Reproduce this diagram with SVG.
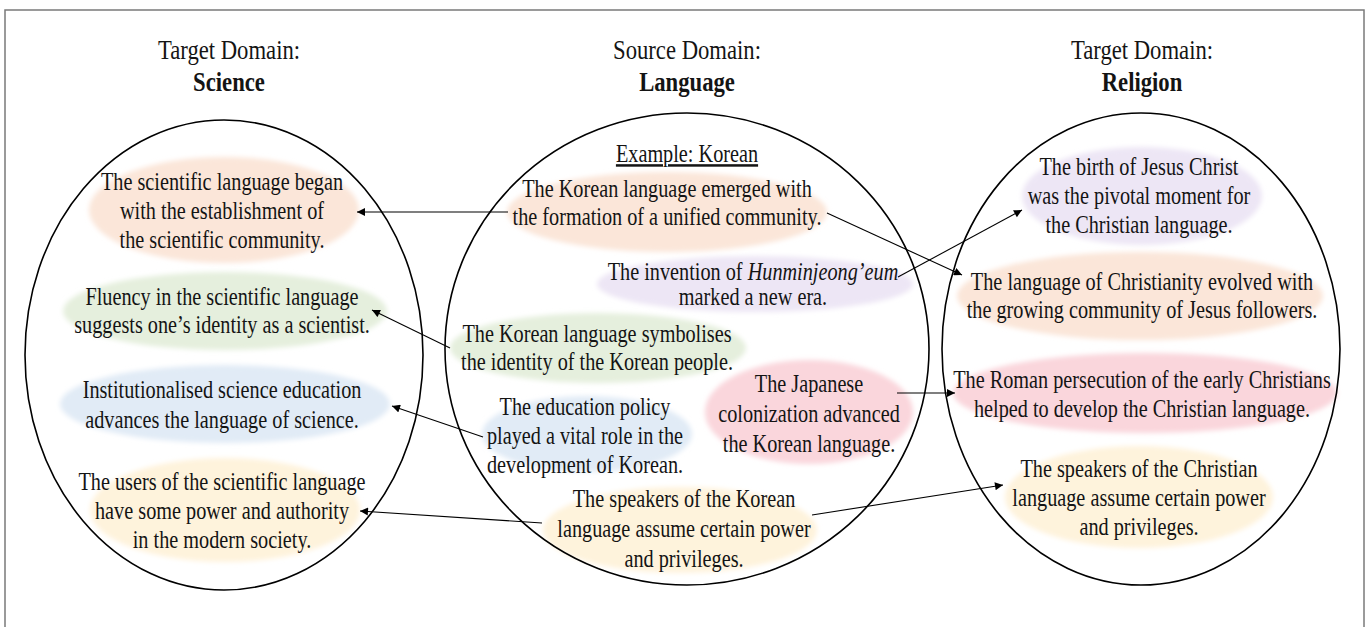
<svg xmlns="http://www.w3.org/2000/svg" width="1368" height="627" viewBox="0 0 1368 627">
<style>
text{font-family:"Liberation Serif","Times New Roman",serif;fill:#141414;text-anchor:middle}
.b{font-size:25px}
.t{font-size:28px}
.bold{font-weight:bold}
.dom{fill:none;stroke:#000;stroke-width:1.6}
.c{stroke:#000;stroke-width:1.1;fill:none;marker-end:url(#ah)}
.peach{fill:#fbe6d9}.green{fill:#e5efdd}.blue{fill:#e1ebf6}.yellow{fill:#fef3dc}.purple{fill:#ede6f5}.red{fill:#fad6dc}
.soft{filter:url(#blur)}
</style>
<defs>
<filter id="blur" x="-10%" y="-20%" width="120%" height="140%"><feGaussianBlur stdDeviation="2.5"/></filter>
<marker id="ah" viewBox="0 0 10 10" refX="10" refY="5" markerWidth="9" markerHeight="8" markerUnits="userSpaceOnUse" orient="auto"><path d="M0,0 L10,5 L0,10 z" fill="#000"/></marker>
</defs>
<rect x="5" y="10" width="1359" height="640" fill="#fff" stroke="#7a7a7a" stroke-width="1.5"/>

<g id="titles">
<g transform="translate(229 0) scale(0.81 1)"><text class="t" x="0" y="59">Target Domain:</text><text class="t bold" x="0" y="91">Science</text></g>
<g transform="translate(687 0) scale(0.81 1)"><text class="t" x="0" y="59">Source Domain:</text><text class="t bold" x="0" y="91">Language</text></g>
<g transform="translate(1142 0) scale(0.81 1)"><text class="t" x="0" y="59">Target Domain:</text><text class="t bold" x="0" y="91">Religion</text></g>
</g>

<g id="science-nodes">
<g id="s1"><ellipse class="peach soft" cx="224" cy="210" rx="135" ry="53"/>
<g transform="translate(222 0) scale(0.81 1)"><text class="b" x="0" y="190">The scientific language began</text><text class="b" x="0" y="219">with the establishment of</text><text class="b" x="0" y="248">the scientific community.</text></g></g>
<g id="s2"><ellipse class="green soft" cx="225" cy="311" rx="162" ry="39"/>
<g transform="translate(222 0) scale(0.81 1)"><text class="b" x="0" y="305">Fluency in the scientific language</text><text class="b" x="0" y="333">suggests one’s identity as a scientist.</text></g></g>
<g id="s3"><ellipse class="blue soft" cx="225" cy="404" rx="165" ry="39"/>
<g transform="translate(222 0) scale(0.81 1)"><text class="b" x="0" y="398">Institutionalised science education</text><text class="b" x="0" y="428">advances the language of science.</text></g></g>
<g id="s4"><ellipse class="yellow soft" cx="225" cy="510" rx="135" ry="52"/>
<g transform="translate(222 0) scale(0.81 1)"><text class="b" x="0" y="490">The users of the scientific language</text><text class="b" x="0" y="519">have some power and authority</text><text class="b" x="0" y="548">in the modern society.</text></g></g>
</g>

<g id="language-nodes">
<g transform="translate(687 0) scale(0.81 1)"><text id="example" class="b" x="0" y="162" text-decoration="underline">Example: Korean</text></g>
<g id="l1"><ellipse class="peach soft" cx="667" cy="212" rx="160" ry="40"/>
<g transform="translate(667 0) scale(0.81 1)"><text class="b" x="0" y="197">The Korean language emerged with</text><text class="b" x="0" y="225">the formation of a unified community.</text></g></g>
<g id="l2"><ellipse class="purple soft" cx="755" cy="284" rx="158" ry="28"/>
<g transform="translate(753 0) scale(0.81 1)"><text class="b" x="0" y="280">The invention of <tspan font-style="italic">Hunminjeong’eum</tspan></text><text class="b" x="0" y="305">marked a new era.</text></g></g>
<g id="l3"><ellipse class="green soft" cx="598" cy="348" rx="148" ry="35"/>
<g transform="translate(597 0) scale(0.81 1)"><text class="b" x="0" y="342">The Korean language symbolises</text><text class="b" x="0" y="370">the identity of the Korean people.</text></g></g>
<g id="l4"><ellipse class="blue soft" cx="587" cy="434" rx="105" ry="38"/>
<g transform="translate(585 0) scale(0.81 1)"><text class="b" x="0" y="415">The education policy</text><text class="b" x="0" y="444">played a vital role in the</text><text class="b" x="0" y="473">development of Korean.</text></g></g>
<g id="l5"><ellipse class="red soft" cx="809" cy="412" rx="104" ry="52"/>
<g transform="translate(809 0) scale(0.81 1)"><text class="b" x="0" y="392">The Japanese</text><text class="b" x="0" y="422">colonization advanced</text><text class="b" x="0" y="452">the Korean language.</text></g></g>
<g id="l6"><ellipse class="yellow soft" cx="680" cy="530" rx="137" ry="43"/>
<g transform="translate(684 0) scale(0.81 1)"><text class="b" x="0" y="507">The speakers of the Korean</text><text class="b" x="0" y="537">language assume certain power</text><text class="b" x="0" y="567">and privileges.</text></g></g>
</g>

<g id="religion-nodes">
<g id="r1"><ellipse class="purple soft" cx="1142" cy="196" rx="120" ry="49"/>
<g transform="translate(1139 0) scale(0.81 1)"><text class="b" x="0" y="175">The birth of Jesus Christ</text><text class="b" x="0" y="204">was the pivotal moment for</text><text class="b" x="0" y="233">the Christian language.</text></g></g>
<g id="r2"><ellipse class="peach soft" cx="1140" cy="296" rx="183" ry="44"/>
<g transform="translate(1142 0) scale(0.81 1)"><text class="b" x="0" y="290">The language of Christianity evolved with</text><text class="b" x="0" y="318">the growing community of Jesus followers.</text></g></g>
<g id="r3"><ellipse class="red soft" cx="1145" cy="393" rx="192" ry="40"/>
<g transform="translate(1142 0) scale(0.81 1)"><text class="b" x="0" y="388">The Roman persecution of the early Christians</text><text class="b" x="0" y="417">helped to develop the Christian language.</text></g></g>
<g id="r4"><ellipse class="yellow soft" cx="1139" cy="497" rx="134" ry="51"/>
<g transform="translate(1139 0) scale(0.81 1)"><text class="b" x="0" y="477">The speakers of the Christian</text><text class="b" x="0" y="506">language assume certain power</text><text class="b" x="0" y="535">and privileges.</text></g></g>
</g>

<g id="domains">
<ellipse class="dom" cx="224" cy="355" rx="199" ry="235"/>
<ellipse class="dom" cx="687" cy="349" rx="242" ry="236"/>
<ellipse class="dom" cx="1141" cy="349" rx="199" ry="236"/>
</g>

<g id="connectors">
<line class="c" x1="508" y1="212" x2="357" y2="212"/>
<line class="c" x1="827" y1="213" x2="962" y2="275"/>
<line class="c" x1="898" y1="277" x2="1022" y2="210"/>
<line class="c" x1="450" y1="348" x2="372" y2="310"/>
<line class="c" x1="483" y1="437" x2="392" y2="406"/>
<line class="c" x1="897" y1="393" x2="955" y2="393"/>
<line class="c" x1="542" y1="523" x2="360" y2="511"/>
<line class="c" x1="812" y1="515" x2="1003" y2="485"/>
</g>
</svg>
